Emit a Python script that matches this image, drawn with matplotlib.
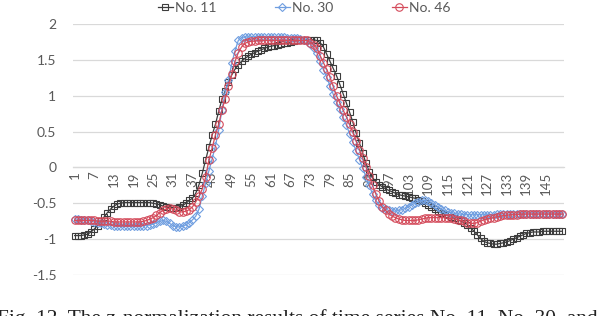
import matplotlib
matplotlib.use("Agg")
import matplotlib.pyplot as plt
import numpy as np

# ---------------- data ----------------
series_names = ["No. 11", "No. 30", "No. 46"]

no11 = [-0.95, -0.95, -0.95, -0.94, -0.93, -0.90,
        -0.86, -0.81, -0.75, -0.69, -0.63, -0.58, -0.54, -0.51, -0.50,
        -0.49, -0.49, -0.49, -0.49, -0.49, -0.49, -0.49, -0.49, -0.49, -0.50, -0.51, -0.52,
        -0.54, -0.55, -0.56, -0.56, -0.56, -0.55, -0.53, -0.50,
        -0.46, -0.43, -0.36, -0.24,
        -0.08, 0.10, 0.28, 0.45, 0.60, 0.78, 0.95, 1.07, 1.19, 1.29, 1.37, 1.43, 1.48, 1.52, 1.55, 1.58,
        1.60, 1.62, 1.64, 1.66, 1.68, 1.69, 1.70, 1.71, 1.72, 1.73, 1.74, 1.75, 1.76, 1.77, 1.77, 1.78, 1.78, 1.78,
        1.78, 1.77, 1.74, 1.68, 1.58, 1.48, 1.38, 1.28, 1.16, 1.03, 0.90, 0.77, 0.63, 0.48, 0.34, 0.20,
        0.06, -0.06, -0.14, -0.20, -0.24, -0.27,
        -0.30, -0.32, -0.34, -0.36, -0.38, -0.39, -0.40, -0.41, -0.42, -0.43, -0.45, -0.47, -0.49, -0.52, -0.55,
        -0.58, -0.61, -0.63, -0.65, -0.67, -0.69, -0.71, -0.73, -0.75, -0.77, -0.80, -0.84, -0.89, -0.94, -0.99,
        -1.03, -1.05, -1.06, -1.07, -1.07, -1.06, -1.05, -1.04, -1.02, -1.00, -0.98, -0.96, -0.94, -0.92, -0.91,
        -0.90, -0.90, -0.90, -0.89, -0.89, -0.89, -0.89, -0.89, -0.89, -0.89]

no30 = [-0.72, -0.72, -0.73, -0.73, -0.74, -0.75, -0.76, -0.77, -0.78, -0.79, -0.80, -0.80,
        -0.81, -0.81, -0.82, -0.82, -0.82, -0.82, -0.82, -0.82, -0.82, -0.81, -0.81, -0.80, -0.79,
        -0.77, -0.75, -0.74, -0.75, -0.78, -0.81, -0.83, -0.83, -0.82, -0.80,
        -0.77, -0.73, -0.68, -0.58, -0.40,
        -0.22, -0.05, 0.12, 0.30, 0.52, 0.80, 1.05, 1.22, 1.45, 1.63, 1.77, 1.81, 1.82, 1.82, 1.82,
        1.82, 1.82, 1.82, 1.82, 1.82, 1.82, 1.82, 1.82, 1.82, 1.82, 1.81, 1.81, 1.80, 1.80, 1.79,
        1.78, 1.76, 1.72, 1.67, 1.60, 1.48, 1.36, 1.26, 1.14, 1.02, 0.91, 0.81, 0.70, 0.59, 0.47,
        0.35, 0.23, 0.11, -0.01, -0.13, -0.25, -0.37, -0.46, -0.52, -0.56,
        -0.58, -0.60, -0.61, -0.61, -0.60, -0.59, -0.57, -0.55, -0.52, -0.50, -0.48, -0.46, -0.46, -0.47, -0.49,
        -0.52, -0.55, -0.58, -0.60, -0.62, -0.63, -0.64, -0.65, -0.65, -0.66, -0.66, -0.66, -0.66, -0.66, -0.66,
        -0.66, -0.66, -0.66, -0.66, -0.65, -0.65, -0.65, -0.65, -0.65, -0.65, -0.65, -0.65, -0.65,
        -0.65, -0.65, -0.65, -0.65, -0.65, -0.65, -0.65, -0.65, -0.65, -0.65, -0.65, -0.65]

no46 = [-0.74, -0.74, -0.74, -0.74, -0.74, -0.74, -0.74, -0.75, -0.75, -0.75, -0.75, -0.75,
        -0.76, -0.76, -0.76, -0.76, -0.76, -0.76, -0.76, -0.76, -0.76, -0.75, -0.74, -0.72, -0.70,
        -0.67, -0.63, -0.60, -0.58, -0.57, -0.58, -0.60, -0.62, -0.62, -0.61,
        -0.59, -0.55, -0.48, -0.40, -0.30, -0.14,
        0.10, 0.27, 0.45, 0.60, 0.80, 0.96, 1.13, 1.30, 1.48, 1.60, 1.68, 1.73, 1.75, 1.76,
        1.76, 1.77, 1.77, 1.77, 1.77, 1.77, 1.77, 1.77, 1.77, 1.77, 1.77, 1.77, 1.77, 1.77, 1.77, 1.77, 1.77,
        1.74, 1.71, 1.66, 1.56, 1.46, 1.37, 1.26, 1.13, 1.00, 0.90, 0.80, 0.71, 0.60, 0.49, 0.37,
        0.25, 0.13, 0.01, -0.12, -0.25, -0.37, -0.47, -0.55, -0.60, -0.65,
        -0.68, -0.70, -0.72, -0.73, -0.74, -0.74, -0.74, -0.74, -0.73, -0.72, -0.71, -0.70, -0.70,
        -0.70, -0.70, -0.70, -0.70, -0.71, -0.71, -0.72, -0.73, -0.74, -0.75, -0.77, -0.78, -0.78,
        -0.77, -0.75, -0.73, -0.72, -0.71, -0.70, -0.69, -0.68, -0.67, -0.67, -0.66,
        -0.66, -0.66, -0.65, -0.65, -0.65, -0.65, -0.65, -0.65, -0.65, -0.65, -0.65, -0.65, -0.65,
        -0.65, -0.65, -0.65]

categories = list(range(1, 151))
tick_labels = [str(c) for c in categories[::6]]
y_ticks = [-1.5, -1, -0.5, 0, 0.5, 1, 1.5, 2]
y_tick_labels = ["-1.5", "-1", "-0.5", "0", "0.5", "1", "1.5", "2"]
caption = "Fig. 12. The z-normalization results of time series No. 11, No. 30, and No. 46."

assert len(no11) == len(no30) == len(no46) == len(categories), (len(no11), len(no30), len(no46))

# ---------------- figure ----------------
W, H = 602, 316
fig = plt.figure(figsize=(W / 100, H / 100), dpi=100)
ax = fig.add_axes([73 / W, (H - 275) / H, (564 - 73) / W, (275 - 24) / H])

FONT = "Lato"
GRAY = "#595959"
GRID = "#d9d9d9"

# spine placement first (it resets the tick objects)
for s in ["top", "right", "left"]:
    ax.spines[s].set_visible(False)
ax.spines["bottom"].set_position(("data", 0))
ax.spines["bottom"].set_color(GRID)
ax.spines["bottom"].set_linewidth(0.9)
ax.patch.set_visible(False)

styles = [
    dict(color="#3c3c3c", marker="s", ms=5.0),
    dict(color="#6f9ee0", marker="D", ms=4.4),
    dict(color="#d44b5b", marker="o", ms=5.4),
]

for name, vals, st in zip(series_names, [no11, no30, no46], styles):
    ax.plot(categories, vals, color=st["color"], lw=0.9, marker=st["marker"],
            ms=st["ms"], mfc="none", mec=st["color"], mew=0.8, label=name,
            zorder=3, clip_on=False)

ax.set_xlim(0.5, 150.5)
ax.set_ylim(-1.5, 2)

ax.set_yticks(y_ticks)
ax.set_yticklabels(y_tick_labels, fontname=FONT, fontsize=10, color=GRAY)
ax.yaxis.grid(True, color=GRID, lw=0.9, zorder=0)
ax.set_axisbelow(True)
ax.tick_params(axis="y", length=0, pad=12)

ax.set_xticks(categories[::6])
ax.set_xticklabels(tick_labels, rotation=90, fontname=FONT, fontsize=9.5, color=GRAY)
ax.tick_params(axis="x", length=0, pad=3, labelrotation=90)

leg = fig.legend(loc="center", bbox_to_anchor=(304 / W, 1 - 8 / H), ncol=3,
                 frameon=False, prop={"family": FONT, "size": 10},
                 handlelength=1.1, handletextpad=0.15, columnspacing=4.2,
                 borderpad=0, numpoints=1)
for t in leg.get_texts():
    t.set_color(GRAY)

# caption, partially cut at the bottom edge like the source
cap = fig.text(-3 / W, (H - 324) / H, caption, fontfamily="Liberation Serif",
               fontsize=14, color="#222222", ha="left", va="baseline")
fig.canvas.draw()
r = fig.canvas.get_renderer()
prefix = fig.text(0, 0, "Fig. 12. The z-normalization results of time series ",
                  fontfamily="Liberation Serif", fontsize=14)
pw = prefix.get_window_extent(r).width
prefix.remove()
cap.set_fontsize(14 * 433 / pw)

fig.savefig("out.png", dpi=100)
